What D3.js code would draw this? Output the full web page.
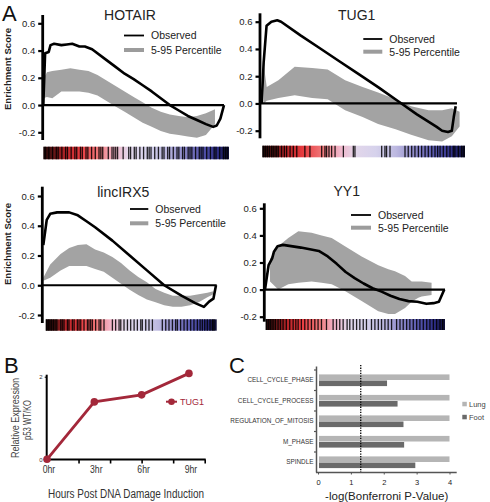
<!DOCTYPE html>
<html><head><meta charset="utf-8">
<script src="https://cdn.jsdelivr.net/npm/d3@7"></script>
<style>body{margin:0;background:#fff}svg{display:block}text{font-family:"Liberation Sans",Arial,sans-serif}</style>
</head><body>
<svg id="chart" width="490" height="502"></svg>
<script>
// ---------- Panel A data (rank fraction, enrichment score) ----------
const yTicksA = [-0.2, 0.0, 0.2, 0.4, 0.6];
const legendLabelsA = ["Observed", "5-95 Percentile"];

const hotairObserved = [[0,0],[0.01,0.38],[0.03,0.39],[0.04,0.44],[0.06,0.45],[0.1,0.44],[0.13,0.445],[0.16,0.45],[0.2,0.43],[0.23,0.43],[0.27,0.41],[0.35,0.33],[0.4,0.28],[0.45,0.23],[0.5,0.19],[0.55,0.145],[0.6,0.10],[0.65,0.05],[0.7,0.0],[0.75,-0.04],[0.8,-0.08],[0.85,-0.11],[0.9,-0.14],[0.94,-0.16],[0.96,-0.15],[0.98,-0.10],[1,0]];
const hotairBand = [[0,0.05,0.19],[0.02,0.06,0.24],[0.05,0.05,0.25],[0.1,0.10,0.26],[0.15,0.10,0.27],[0.2,0.10,0.26],[0.25,0.09,0.25],[0.3,0.07,0.22],[0.35,0.03,0.18],[0.4,-0.01,0.14],[0.45,-0.05,0.10],[0.5,-0.09,0.06],[0.55,-0.13,0.02],[0.6,-0.16,-0.02],[0.65,-0.19,-0.05],[0.7,-0.21,-0.07],[0.75,-0.22,-0.08],[0.8,-0.23,-0.09],[0.85,-0.24,-0.08],[0.9,-0.22,-0.06],[0.95,-0.14,-0.03]];
const hotairHits = [1,3,5,7,8,10,12,13,15,17,18,20,21,23,24,26,28,30,31,32,35,37,38,39,40,43,46,47,49,50,52,54,56,57,58,60,62,64,65,67,68,70,72,73,75,76,78,79,80,82,84,85,86,88,90,92,93,95,97,98,99];

const tug1Observed = [[0,0],[0.01,0.3],[0.025,0.57],[0.05,0.60],[0.08,0.61],[0.1,0.60],[0.2,0.50],[0.3,0.405],[0.4,0.31],[0.5,0.215],[0.6,0.12],[0.7,0.02],[0.72,0.0],[0.8,-0.08],[0.9,-0.17],[0.93,-0.2],[0.96,-0.21],[0.98,-0.2],[0.99,-0.1],[1,-0.02]];
const tug1Band = [[0.009,0.0,0.3],[0.026,0.02,0.12],[0.086,0.04,0.17],[0.17,0.06,0.27],[0.26,0.04,0.26],[0.34,0.03,0.25],[0.43,-0.05,0.17],[0.52,-0.1,0.12],[0.6,-0.15,0.08],[0.69,-0.19,0.03],[0.77,-0.23,-0.02],[0.86,-0.27,-0.05],[0.93,-0.28,-0.05],[0.98,-0.24,-0.035],[1.02,-0.17,-0.06]];
const tug1Hits = [0.5,1.5,2.5,3.5,4.6,5.4,6.3,7.1,7.9,9.5,10.9,12,13.7,15.3,17,21,23.5,29.3,30.9,31.7,32.9,34.2,35.9,40,44.9,45.7,58.9,60.5,61.3,63,70.4,72,73.7,75.3,77,78.6,80.3,81.9,83.6,85.2,86.5,87.7,89.3,91,92.6,94.2,95,96.7,98.4,99.5];

const lincObserved = [[0,0.27],[0.02,0.44],[0.04,0.48],[0.08,0.49],[0.15,0.49],[0.2,0.47],[0.25,0.43],[0.3,0.39],[0.4,0.30],[0.5,0.20],[0.6,0.10],[0.7,0.0],[0.8,-0.07],[0.88,-0.12],[0.93,-0.145],[0.96,-0.11],[0.985,-0.09],[1,0]];
const lincBand = [[0,0.03,0.05],[0.04,0.05,0.14],[0.1,0.10,0.21],[0.15,0.13,0.25],[0.2,0.13,0.27],[0.25,0.13,0.275],[0.3,0.11,0.24],[0.35,0.09,0.22],[0.4,0.05,0.19],[0.45,0.01,0.15],[0.5,-0.03,0.10],[0.55,-0.065,0.055],[0.6,-0.095,0.02],[0.65,-0.115,-0.025],[0.7,-0.135,-0.05],[0.75,-0.145,-0.07],[0.8,-0.145,-0.07],[0.85,-0.135,-0.07],[0.9,-0.115,-0.06],[0.95,-0.08,-0.05],[0.985,-0.06,-0.04]];
const lincHits = [0.5,1.5,2.5,3.5,4.5,5.5,6.5,8.8,9.7,10.7,12.7,13.6,15.6,16.6,18.5,19.5,20.5,22.4,24.4,25.3,26.3,27.3,29.2,31.2,32.2,34.1,39,40.9,42.9,43.9,45.8,47.8,49.7,51.7,53.6,55.6,56.5,58.5,60.4,62.4,68.2,70.2,72.1,74.1,76,77,78.9,80.9,82.8,84.8,86.7,88.7,90.3,91.6,93,94.5,96.1,97.5,98.4];

const yy1Observed = [[0,0],[0.02,0.18],[0.04,0.23],[0.05,0.28],[0.07,0.32],[0.1,0.33],[0.2,0.31],[0.3,0.285],[0.35,0.245],[0.4,0.19],[0.45,0.13],[0.5,0.085],[0.55,0.045],[0.6,0.01],[0.65,-0.015],[0.7,-0.045],[0.75,-0.07],[0.8,-0.085],[0.85,-0.09],[0.9,-0.105],[0.94,-0.1],[0.97,-0.09],[1,0]];
const yy1Band = [[0.028,0.06,0.23],[0.074,0.0,0.32],[0.13,0.04,0.38],[0.186,0.05,0.43],[0.26,0.06,0.42],[0.316,0.05,0.40],[0.372,0.04,0.38],[0.446,-0.01,0.32],[0.539,-0.085,0.245],[0.632,-0.16,0.18],[0.688,-0.18,0.15],[0.725,-0.18,0.135],[0.781,-0.135,0.10],[0.818,-0.09,0.06],[0.855,-0.06,0.06],[0.874,-0.05,0.06],[0.929,-0.04,0.05]];
const yy1Hits = [0.4,1.7,2.8,4.1,5.4,6.9,8.2,9.7,11.5,13.4,15.3,16.8,18.1,19.9,21.8,23.6,25.5,27.4,29.2,31.1,33.9,37.6,39.5,41.3,43.2,45.4,46.9,48.8,50.7,52.5,54.4,56.2,59,60.9,62.8,64.6,66.5,68.3,70.2,73,74.9,76.7,78.6,80.4,82.3,84.2,86,87.9,89.8,91.6,93.5,95.3,97.2,98.7];

// rank-list colour stops (position %, colour)
const rankColorStops = [[0,"#1a0606"],[5,"#5a1414"],[12,"#b82428"],[20,"#e83a3e"],[30,"#f07a7c"],[38,"#f2b4c8"],[46,"#e2d6ea"],[56,"#d6d2ec"],[66,"#bcb8e0"],[76,"#8a86c8"],[86,"#5252aa"],[94,"#2c2c84"],[100,"#0c0c30"]];

// ---------- Panel B data ----------
const bHours = [0, 3, 6, 9];
const bValues = [0, 1.39, 1.56, 2.08];
const bXTickLabels = ["0hr", "3hr", "6hr", "9hr"];
const bYTicks = [0, 2];
const bSeriesName = "TUG1";

// ---------- Panel C data ----------
const cCategories = ["CELL_CYCLE_PHASE", "CELL_CYCLE_PROCESS", "REGULATION_OF_MITOSIS", "M_PHASE", "SPINDLE"];
const cLung = [4.0, 4.0, 4.0, 4.0, 4.0];
const cFoot = [2.1, 2.42, 2.6, 2.62, 2.96];
const cSeries = ["Lung", "Foot"];
const cXTicks = [0, 1, 2, 3, 4];
const cThreshold = 1.3;

const svg = d3.select("#chart");

// gradient
const defs = svg.append("defs");
const grad = defs.append("linearGradient").attr("id","rankGrad").attr("x1","0%").attr("x2","100%").attr("y1","0%").attr("y2","0%");
rankColorStops.forEach(s => grad.append("stop").attr("offset", s[0]+"%").attr("stop-color", s[1]));

function gsea(c) {
  const g = svg.append("g");
  const y = d3.scaleLinear().domain([-0.2, 0.6]).range([c.yM02, c.y06]);
  const x = d3.scaleLinear().domain([0, 1]).range([c.x0, c.x1]);
  g.append("path").datum(c.band)
    .attr("d", d3.area().x(d => x(d[0])).y0(d => y(d[1])).y1(d => y(d[2])).curve(d3.curveLinear))
    .attr("fill", "#a3a3a3");
  g.append("line").attr("x1", c.axisX).attr("x2", c.zeroEnd).attr("y1", y(0)).attr("y2", y(0))
    .attr("stroke", "#000").attr("stroke-width", 2.2);
  g.append("path").datum(c.observed)
    .attr("d", d3.line().x(d => x(d[0])).y(d => y(d[1])))
    .attr("fill", "none").attr("stroke", "#000").attr("stroke-width", 2.6).attr("stroke-linejoin", "round");
  const ax = g.append("g").attr("transform", `translate(${c.axisX},0)`)
    .call(d3.axisLeft(y).tickValues(yTicksA).tickFormat(d => d.toFixed(1)).tickSize(4.5).tickPadding(3));
  ax.select(".domain").remove();
  ax.selectAll(".tick line").attr("stroke", "#000").attr("stroke-width", 2.2);
  ax.selectAll(".tick text").attr("font-size", 9.5).attr("fill", "#222").attr("font-family", "Liberation Sans, Arial, sans-serif");
  g.append("line").attr("x1", c.axisX).attr("x2", c.axisX).attr("y1", c.axisTop).attr("y2", c.axisBottom)
    .attr("stroke", "#000").attr("stroke-width", 2.8);
  g.append("text").attr("x", c.titleX).attr("y", c.titleY).attr("text-anchor", "middle")
    .attr("font-size", 14).attr("fill", "#222").text(c.title);
  g.append("line").attr("x1", c.legX).attr("x2", c.legX + c.legW).attr("y1", c.legY).attr("y2", c.legY)
    .attr("stroke", "#000").attr("stroke-width", 1.8);
  g.append("line").attr("x1", c.legX).attr("x2", c.legX + c.legW).attr("y1", c.legY + c.legGap).attr("y2", c.legY + c.legGap)
    .attr("stroke", "#9c9c9c").attr("stroke-width", 4);
  g.append("text").attr("x", c.legX + c.legW + 7).attr("y", c.legY + 3.8).attr("font-size", 10.5).attr("fill", "#222").text(legendLabelsA[0]);
  g.append("text").attr("x", c.legX + c.legW + 7).attr("y", c.legY + c.legGap + 3.8).attr("font-size", 10.5).attr("fill", "#222").text(legendLabelsA[1]);
  if (c.esLabel) {
    g.append("text").attr("transform", `translate(${c.esLabel[0]},${c.esLabel[1]}) rotate(-90)`)
      .attr("text-anchor", "middle").attr("dy", "0.35em").attr("font-size", 9.6).attr("font-weight", "bold")
      .attr("fill", "#222").text("Enrichment Score");
  }
  const xb = d3.scaleLinear().domain([0, 100]).range([c.bar[0], c.bar[1]]);
  g.append("rect").attr("x", xb(0)).attr("y", c.bar[2]).attr("width", xb(100) - xb(0)).attr("height", c.bar[3] - c.bar[2])
    .attr("fill", "url(#rankGrad)");
  g.selectAll(".hit").data(c.hits).join("line")
    .attr("x1", d => xb(d)).attr("x2", d => xb(d)).attr("y1", c.bar[2]).attr("y2", c.bar[3])
    .attr("stroke", "#000").attr("stroke-opacity", 0.85).attr("stroke-width", 1.3);
}

gsea({title:"HOTAIR", observed:hotairObserved, band:hotairBand, hits:hotairHits,
  axisX:42.7, axisTop:15, axisBottom:140, y06:23.3, yM02:132.3, x0:43.3, x1:224, zeroEnd:224,
  bar:[43.3,229,146.7,159.3], titleX:130, titleY:20, legX:124, legY:35.5, legW:20, legGap:14.5, esLabel:[8,69]});
gsea({title:"TUG1", observed:tug1Observed, band:tug1Band, hits:tug1Hits,
  axisX:260, axisTop:13.3, axisBottom:138.3, y06:21.7, yM02:130.7, x0:261.7, x1:455.7, zeroEnd:457,
  bar:[262.3,465,145.7,157.3], titleX:356.7, titleY:20, legX:363.3, legY:39, legW:19, legGap:12.7});
gsea({title:"lincIRX5", observed:lincObserved, band:lincBand, hits:lincHits,
  axisX:42.3, axisTop:186.7, axisBottom:323, y06:196, yM02:315, x0:43.3, x1:216, zeroEnd:216.7,
  bar:[45.7,216.7,319.3,330.7], titleX:123.3, titleY:196.5, legX:130, legY:209, legW:18.3, legGap:14.3, esLabel:[8,244]});
gsea({title:"YY1", observed:yy1Observed, band:yy1Band, hits:yy1Hits,
  axisX:264.3, axisTop:203.3, axisBottom:321.7, y06:208.3, yM02:316.7, x0:265, x1:444.3, zeroEnd:445,
  bar:[265.7,445,319,330], titleX:346.7, titleY:195.5, legX:351, legY:215, legW:20, legGap:12.7});

[["A",2,21],["B",4,373],["C",229,373]].forEach(l => {
  svg.append("text").attr("x", l[1]).attr("y", l[2]).attr("font-size", 22).attr("fill", "#111").text(l[0]);
});

// ---------- Panel B ----------
{
  const g = svg.append("g");
  const x = d3.scaleLinear().domain([0, 10]).range([47, 204.7]);
  const y = d3.scaleLinear().domain([0, 2]).range([459.3, 376.7]);
  const red = "#a3283a";
  const xa = g.append("g").attr("transform", "translate(0,459.5)")
    .call(d3.axisBottom(x).tickValues([2,4,6,8,10]).tickFormat("").tickSize(4));
  xa.select(".domain").attr("d", `M${x(0)-1},0H${x(10)+1}`).attr("stroke", "#000").attr("stroke-width", 2);
  xa.selectAll(".tick line").attr("stroke", "#000").attr("stroke-width", 1.6);
  const ya = g.append("g").attr("transform", "translate(46.7,0)")
    .call(d3.axisLeft(y).tickValues(bYTicks).tickFormat(d3.format("d")).tickSize(2).tickPadding(2));
  ya.select(".domain").attr("d", `M0,${y(2)-2}V${y(0)+1}`).attr("stroke", "#000").attr("stroke-width", 2);
  ya.selectAll(".tick line").attr("stroke", "#000");
  ya.selectAll(".tick text").attr("font-size", 6).attr("fill", "#333").attr("font-family", "Liberation Sans, Arial, sans-serif");
  g.selectAll(".bx").data(bHours).join("text")
    .attr("x", d => x(d) + 2).attr("y", 472.5).attr("text-anchor", "middle")
    .attr("font-size", 11.5).attr("fill", "#333").attr("textLength", 12.5).attr("lengthAdjust", "spacingAndGlyphs")
    .text((d, i) => bXTickLabels[i]);
  const pts = bHours.map((h, i) => [h, bValues[i]]);
  g.append("path").datum(pts).attr("d", d3.line().x(d => x(d[0])).y(d => y(d[1])))
    .attr("fill", "none").attr("stroke", red).attr("stroke-width", 2.8);
  g.selectAll(".bp").data(pts).join("circle").attr("cx", d => x(d[0])).attr("cy", d => y(d[1])).attr("r", 3.8).attr("fill", red);
  g.append("line").attr("x1", 166).attr("x2", 177).attr("y1", 401.7).attr("y2", 401.7).attr("stroke", red).attr("stroke-width", 2);
  g.append("circle").attr("cx", 171.5).attr("cy", 401.7).attr("r", 3.3).attr("fill", red);
  g.append("text").attr("x", 180).attr("y", 404.8).attr("font-size", 9).attr("fill", red).text(bSeriesName);
  g.append("text").attr("transform", "translate(15.5,418) rotate(-90)").attr("text-anchor", "middle").attr("dy", "0.35em")
    .attr("font-size", 11).attr("fill", "#444").attr("textLength", 80).attr("lengthAdjust", "spacingAndGlyphs").text("Relative Expression");
  g.append("text").attr("transform", "translate(27.5,420) rotate(-90)").attr("text-anchor", "middle").attr("dy", "0.35em")
    .attr("font-size", 11).attr("fill", "#444").attr("textLength", 40).attr("lengthAdjust", "spacingAndGlyphs").text("p53 WT/KO");
  g.append("text").attr("x", 126).attr("y", 497.5).attr("text-anchor", "middle")
    .attr("font-size", 12).attr("fill", "#333").attr("textLength", 156).attr("lengthAdjust", "spacingAndGlyphs").text("Hours Post DNA Damage Induction");
}

// ---------- Panel C ----------
{
  const g = svg.append("g");
  const x = d3.scaleLinear().domain([0, 4]).range([318, 449.5]);
  const y0 = d3.scaleBand().domain(cCategories).range([370, 472.5]).paddingInner(0.43).paddingOuter(0.215);
  const y1 = d3.scaleBand().domain(cSeries).range([0, y0.bandwidth()]).paddingInner(0.08);
  const colors = {Lung: "#b5b5b5", Foot: "#6a6a6a"};
  const rows = cCategories.map((c, i) => ({cat: c, vals: [{s: "Lung", v: cLung[i]}, {s: "Foot", v: cFoot[i]}]}));
  const grp = g.selectAll(".grp").data(rows).join("g").attr("transform", d => `translate(0,${y0(d.cat)})`);
  grp.selectAll("rect").data(d => d.vals).join("rect")
    .attr("x", x(0) + 1).attr("y", d => y1(d.s)).attr("width", d => x(d.v) - x(0) - 1).attr("height", y1.bandwidth())
    .attr("fill", d => colors[d.s]);
  g.selectAll(".cl").data(cCategories).join("text")
    .attr("x", 313.5).attr("y", d => y0(d) + y0.bandwidth() / 2).attr("dy", "0.35em").attr("text-anchor", "end")
    .attr("font-size", 6.4).attr("fill", "#333").text(d => d);
  g.append("line").attr("x1", 316.5).attr("x2", 316.5).attr("y1", 366.5).attr("y2", 472.5).attr("stroke", "#555").attr("stroke-width", 1.5);
  const seps = cCategories.map(d => y0(d) - y0.step() * 0.215);
  g.selectAll(".sep").data(seps).join("line").attr("x1", 314).attr("x2", 316.5).attr("y1", d => d).attr("y2", d => d)
    .attr("stroke", "#555").attr("stroke-width", 1.2);
  const xa = g.append("g").attr("transform", "translate(0,472.5)")
    .call(d3.axisBottom(x).tickValues(cXTicks).tickSize(2).tickPadding(5).tickFormat(d3.format("d")));
  xa.select(".domain").attr("d", `M316,0H456.7`).attr("stroke", "#555").attr("stroke-width", 1.5);
  xa.selectAll(".tick line").attr("stroke", "#555");
  xa.selectAll(".tick text").attr("font-size", 7.5).attr("fill", "#222").attr("font-family", "Liberation Sans, Arial, sans-serif");
  g.append("line").attr("x1", x(cThreshold)).attr("x2", x(cThreshold)).attr("y1", 365).attr("y2", 472)
    .attr("stroke", "#000").attr("stroke-width", 1.3).attr("stroke-dasharray", "1.3,1.3");
  cSeries.forEach((s, i) => {
    g.append("rect").attr("x", 462.3).attr("y", 401.8 + i * 13).attr("width", 4.5).attr("height", 4.5).attr("fill", colors[s]);
    g.append("text").attr("x", 469).attr("y", 404 + i * 13).attr("dy", "0.35em").attr("font-size", 7.5).attr("fill", "#444").text(s);
  });
  g.append("text").attr("x", 386.7).attr("y", 499.5).attr("text-anchor", "middle").attr("font-size", 11.5).attr("fill", "#222")
    .text("-log(Bonferroni P-Value)");
}
</script>
</body></html>
